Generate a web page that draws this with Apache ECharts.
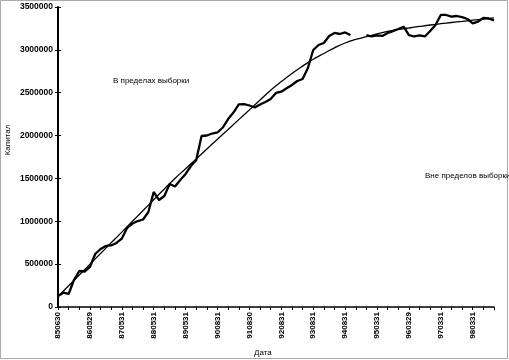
<!DOCTYPE html>
<html><head><meta charset="utf-8">
<script src="https://cdn.jsdelivr.net/npm/echarts@6/dist/echarts.min.js"></script>
<style>html,body{margin:0;padding:0;background:#fff}#c{width:509px;height:360px}</style>
</head><body><div id="c"></div>
<script>
const dates = [
'850630','850830','851031','851231','860228','860430',
'860529','860731','860930','861128','870130','870331',
'870531','870731','870930','871130','880129','880331',
'880531','880729','880930','881130','890131','890331',
'890531','890731','890929','891130','900131','900530',
'900831','901031','901231','910228','910430','910628',
'910830','911031','911231','920228','920430','920630',
'920831','921030','921231','930226','930430','930630',
'930831','931029','931231','940228','940429','940630',
'940831','940930','941031','941130','941230','950131',
'950331','950531','950731','950929','951130','960131',
'960329','960531','960731','960930','961129','970131',
'970331','970530','970731','970930','971128','980130',
'980331','980529','980731','980930','981130'];
const tickLabels = ['850630','860529','870531','880531','890531','900831','910830','920831','930831','940831','950331','960329','970331','980331'];
const capital = [
128000,167000,152000,315000,420000,414000,
467000,618000,677000,712000,718000,747000,
799000,922000,974000,1003000,1021000,1108000,
1342000,1248000,1295000,1435000,1406000,1482000,
1552000,1645000,1715000,1995000,2001000,2024000,
2036000,2094000,2193000,2269000,2363000,2368000,
2351000,2328000,2363000,2392000,2427000,2497000,
2512000,2552000,2590000,2637000,2660000,2788000,
2998000,3057000,3080000,3162000,3197000,3185000,
3203000,3173000,null,null,3173000,3156000,
3168000,3162000,3197000,3218000,3243000,3270000,
3173000,3156000,3168000,3156000,3220000,3290000,
3407000,3407000,3387000,3395000,3381000,3360000,
3308000,3329000,3372000,3366000,3343000];
// trend value at every axis tick (every 2nd date)
const trend = [
122000,247000,373000,498000,624000,749000,874000,1000000,1125000,1252000,
1377000,1500000,1614000,1728000,1843000,1958000,2071000,2186000,2300000,2415000,
2530000,2630000,2724000,2810000,2890000,2958000,3024000,3080000,3121000,3153000,
3185000,3216000,3238000,3255000,3273000,3290000,3305000,3319000,3332000,3346000,
3359000,3373000];
const yTitle = 'Капитал', xTitle = 'Дата';
const note1 = 'В пределах выборки', note2 = 'Вне пределов выборки';

const trendFull = dates.map((d,i)=> i%2===0 ? trend[i/2] : null);
const font = 'Liberation Sans, Arial, sans-serif';
const chart = echarts.init(document.getElementById('c'), null, {renderer:'canvas'});
const yBase = {type:'value', min:0, max:3500000, interval:500000, splitLine:{show:false}};
const xBase = {type:'category', data:dates, boundaryGap:false};
chart.setOption({
  animation:false,
  grid:{left:58, right:15, top:7, bottom:53},
  xAxis:[
    Object.assign({}, xBase, {
      axisLine:{lineStyle:{color:'#000', width:1.5}},
      axisTick:{interval:1, length:3, lineStyle:{color:'#000'}},
      axisLabel:{interval:5, rotate:90, margin:5, color:'#000', fontFamily:font, fontSize:8, fontWeight:'bold',
        formatter:(v,i)=> tickLabels[i/6] || ''}
    }),
    Object.assign({}, xBase, {
      axisLine:{show:false},
      axisTick:{interval:1, inside:true, length:3, lineStyle:{color:'#000'}},
      axisLabel:{show:false}
    })
  ],
  yAxis:[
    Object.assign({}, yBase, {
      axisLine:{show:true, lineStyle:{color:'#000', width:2}},
      axisTick:{show:true, length:3, lineStyle:{color:'#000'}},
      axisLabel:{margin:5, color:'#000', fontFamily:font, fontSize:8.5, fontWeight:'bold',
        formatter:v=> String(v)}
    }),
    Object.assign({}, yBase, {
      position:'left',
      axisLine:{show:false},
      axisTick:{show:true, inside:true, length:3, lineStyle:{color:'#000'}},
      axisLabel:{show:false}
    })
  ],
  series:[
    {type:'line', data:capital, symbol:'none', connectNulls:false,
     lineStyle:{color:'#000', width:2.3}, z:3},
    {type:'line', data:trendFull, symbol:'none', connectNulls:true, smooth:true,
     lineStyle:{color:'#000', width:1.3}, z:2}
  ],
  graphic:[
    {type:'rect', shape:{x:0.5, y:0.5, width:507, height:358}, style:{fill:null, stroke:'#aaa', lineWidth:1}, silent:true},
    {type:'text', x:113, y:81, style:{text:note1, font:'8px '+font, fill:'#000', textVerticalAlign:'middle'}},
    {type:'text', x:425, y:176, style:{text:note2, font:'8px '+font, fill:'#000', textVerticalAlign:'middle'}},
    {type:'text', x:254, y:353, style:{text:xTitle, font:'8px '+font, fill:'#000', textAlign:'left', textVerticalAlign:'middle'}},
    {type:'text', x:8, y:140, rotation:Math.PI/2, style:{text:yTitle, font:'8px '+font, fill:'#000', textAlign:'center', textVerticalAlign:'middle'}}
  ]
});
</script></body></html>
